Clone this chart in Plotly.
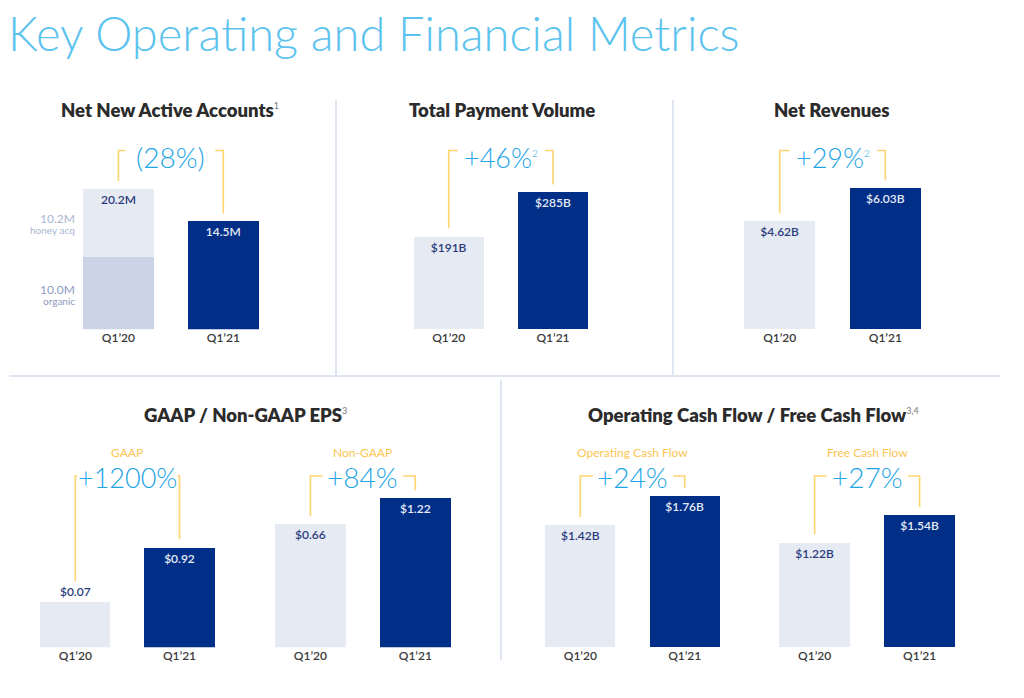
import math
import plotly.graph_objects as go

W, H = 1024, 698

# ---------------- data ----------------
quarters = ["Q1’20", "Q1’21"]
nnaa_organic_q120 = 10.0
nnaa_honey_q120 = 10.2
nnaa_q121 = 14.5
tpv = [191, 285]
net_revenues = [4.62, 6.03]
gaap_eps = [0.07, 0.92]
nongaap_eps = [0.66, 1.22]
op_cash_flow = [1.42, 1.76]
free_cash_flow = [1.22, 1.54]

SUP = "<sup><span style='font-size:10px'>{}</span></sup>"
growth_nnaa = "(28%)"
growth_tpv = "+46%" + SUP.format("2")
growth_rev = "+29%" + SUP.format("2")
growth_gaap = "+1200%"
growth_nongaap = "+84%"
growth_ocf = "+24%"
growth_fcf = "+27%"

# ---------------- styling ----------------
FONT = "Lato"
LIGHT = "#e6eaf3"
ORGANIC = "#cbd4e6"
DARK = "#012f87"
TXT_LIGHT_BAR = "#2a3d7c"
TXT_DARK_BAR = "#e6ebf6"
PCT = "#1ea5e6"
YEL = "#ffd470"
YEL_TXT = "#fcc654"
DIV = "#dfe5f1"
BARW = 0.673

def fx(px):
    return px / W

def fy(py):
    return 1 - py / H

# panel geometry (pixel layout); values drawn via axes
panels = [
    dict(key="nnaa", c=(118.4, 223.3), B=329.3, T=135, log=True, s=225, L=0.68,
         top=150.5, stub=(7, 8), gaps=(7.5, 7.5), pct=growth_nnaa, pct_size=28, pct_dy=7, sub=None),
    dict(key="tpv", c=(448.7, 553.0), B=329.3, T=135, log=False, s=0.4818, L=0,
         top=150.5, stub=(9, 8), gaps=(9, 7.5), pct=growth_tpv, pct_size=27, pct_dy=7, sub=None),
    dict(key="rev", c=(779.7, 885.3), B=329.3, T=135, log=False, s=23.38, L=0,
         top=150.5, stub=(10, 8), gaps=(8, 8), pct=growth_rev, pct_size=27, pct_dy=7, sub=None),
    dict(key="gaap", c=(75.3, 179.5), B=647.3, T=465, log=True, s=48.26, L=-2.087,
         top=476, stub=(2, 2), gaps=(21, 9), pct=growth_gaap, pct_size=27, pct_dy=1, sub="GAAP"),
    dict(key="nongaap", c=(310.4, 415.3), B=647.3, T=465, log=True, s=97.7, L=-1.439,
         top=476, stub=(12, 12), gaps=(8, 8), pct=growth_nongaap, pct_size=28, pct_dy=1, sub="Non-GAAP"),
    dict(key="ocf", c=(580.3, 684.7), B=647.3, T=465, log=False, s=85.8, L=0,
         top=476, stub=(12.5, 11.5), gaps=(8.5, 8), pct=growth_ocf, pct_size=28, pct_dy=1, sub="Operating Cash Flow"),
    dict(key="fcf", c=(814.6, 919.6), B=647.3, T=465, log=False, s=85.8, L=0,
         top=476, stub=(12, 11.5), gaps=(8, 8), pct=growth_fcf, pct_size=28, pct_dy=1, sub="Free Cash Flow"),
]

series = {
    "nnaa": [nnaa_organic_q120 + nnaa_honey_q120, nnaa_q121],
    "tpv": tpv,
    "rev": net_revenues,
    "gaap": gaap_eps,
    "nongaap": nongaap_eps,
    "ocf": op_cash_flow,
    "fcf": free_cash_flow,
}
fmts = {
    "nnaa": lambda v: f"{v:.1f}M",
    "tpv": lambda v: f"${v:.0f}B",
    "rev": lambda v: f"${v:.2f}B",
    "gaap": lambda v: f"${v:.2f}",
    "nongaap": lambda v: f"${v:.2f}",
    "ocf": lambda v: f"${v:.2f}B",
    "fcf": lambda v: f"${v:.2f}B",
}

def val_py(p, v):
    if p["log"]:
        return p["B"] - (math.log10(v) - p["L"]) * p["s"]
    return p["B"] - v * p["s"]

fig = go.Figure()
layout = dict(
    width=W, height=H, margin=dict(l=0, r=0, t=0, b=0),
    paper_bgcolor="white", plot_bgcolor="white",
    barmode="stack", showlegend=False,
    font=dict(family=FONT),
)
annotations = []
shapes = []

bar_font = dict(family=FONT, size=12, weight=600)

for i, p in enumerate(panels):
    n = i + 1
    xa = "x" if n == 1 else f"x{n}"
    ya = "y" if n == 1 else f"y{n}"
    span = p["c"][1] - p["c"][0]
    x0 = p["c"][0] - span / 2
    x1 = p["c"][1] + span / 2
    h = (p["B"] - p["T"]) / p["s"]
    yr = [p["L"], p["L"] + h] if p["log"] else [0, h]
    layout["xaxis" if n == 1 else f"xaxis{n}"] = dict(
        domain=[fx(x0), fx(x1)], range=[-0.5, 1.5], type="category",
        categoryorder="array", categoryarray=quarters, anchor=ya,
        showgrid=False, zeroline=False, showline=False, ticks="",
        tickfont=dict(family=FONT, size=12, color="#3a3a3a", weight=600),
        fixedrange=True,
    )
    layout["yaxis" if n == 1 else f"yaxis{n}"] = dict(
        domain=[fy(p["B"]), fy(p["T"])], range=yr, type="log" if p["log"] else "linear",
        visible=False, anchor=xa, fixedrange=True,
    )
    vals = series[p["key"]]
    f = fmts[p["key"]]

    if p["key"] == "nnaa":
        fig.add_trace(go.Bar(x=[quarters[0]], y=[nnaa_organic_q120], width=BARW,
                             marker=dict(color=ORGANIC, line=dict(width=0)),
                             xaxis=xa, yaxis=ya, hoverinfo="skip"))
        fig.add_trace(go.Bar(x=[quarters[0]], y=[nnaa_honey_q120], width=BARW,
                             marker=dict(color=LIGHT, line=dict(width=0)),
                             text=[f(vals[0])], textposition="inside", insidetextanchor="end",
                             textangle=0, constraintext="none",
                             textfont=dict(color=TXT_LIGHT_BAR, **bar_font),
                             xaxis=xa, yaxis=ya, hoverinfo="skip"))
        fig.add_trace(go.Bar(x=[quarters[1]], y=[nnaa_q121], width=BARW,
                             marker=dict(color=DARK, line=dict(width=0)),
                             text=[f(nnaa_q121)], textposition="inside", insidetextanchor="end",
                             textangle=0, constraintext="none",
                             textfont=dict(color=TXT_DARK_BAR, **bar_font),
                             xaxis=xa, yaxis=ya, hoverinfo="skip"))
        # side labels for stacked segments
        org_top = val_py(p, nnaa_organic_q120)
        tot_top = val_py(p, vals[0])
        lx = fx(p["c"][0] - 35.3 - 6)
        for mid, big, small, col in [
            ((tot_top + org_top) / 2, f"{nnaa_honey_q120:.1f}M", "honey acq", "#aab6d1"),
            ((org_top + p["B"]) / 2, f"{nnaa_organic_q120:.1f}M", "organic", "#8d9bc0"),
        ]:
            annotations.append(dict(x=lx, y=fy(mid - 4), xref="paper", yref="paper", text=big,
                                    showarrow=False, xanchor="right", yanchor="middle",
                                    font=dict(family=FONT, size=12, color=col)))
            annotations.append(dict(x=lx, y=fy(mid + 7.5), xref="paper", yref="paper", text=small,
                                    showarrow=False, xanchor="right", yanchor="middle",
                                    font=dict(family=FONT, size=10, color=col)))
    else:
        positions = ["inside", "inside"]
        if p["key"] == "gaap":
            positions = ["outside", "inside"]
        fig.add_trace(go.Bar(x=quarters, y=vals, width=BARW,
                             marker=dict(color=[LIGHT, DARK], line=dict(width=0)),
                             text=[f(v) for v in vals], textposition=positions,
                             insidetextanchor="end", textangle=0, constraintext="none",
                             cliponaxis=False,
                             textfont=dict(color=[TXT_LIGHT_BAR, TXT_DARK_BAR], **bar_font),
                             xaxis=xa, yaxis=ya, hoverinfo="skip"))

    # bracket
    top = p["top"]
    lx_, rx_ = p["c"]
    lb = val_py(p, vals[0]) - p["gaps"][0]
    rb = val_py(p, vals[1]) - p["gaps"][1]
    shapes.append(dict(type="path", xref="paper", yref="paper",
                       path=f"M {fx(lx_ + p['stub'][0])},{fy(top)} L {fx(lx_)},{fy(top)} L {fx(lx_)},{fy(lb)}",
                       line=dict(color=YEL, width=1.6)))
    shapes.append(dict(type="path", xref="paper", yref="paper",
                       path=f"M {fx(rx_ - p['stub'][1])},{fy(top)} L {fx(rx_)},{fy(top)} L {fx(rx_)},{fy(rb)}",
                       line=dict(color=YEL, width=1.6)))
    mid_x = (lx_ + rx_) / 2
    annotations.append(dict(x=fx(mid_x), y=fy(top + p["pct_dy"]), xref="paper", yref="paper",
                            text=p["pct"], showarrow=False, xanchor="center", yanchor="middle",
                            font=dict(family=FONT, size=p["pct_size"], color=PCT, weight=300)))
    if p["sub"]:
        annotations.append(dict(x=fx(mid_x), y=fy(452.5), xref="paper", yref="paper",
                                text=p["sub"], showarrow=False, xanchor="center", yanchor="middle",
                                font=dict(family=FONT, size=12, color=YEL_TXT)))

# panel titles
TSUP = "<sup><span style='font-size:9px;font-weight:400;color:#777'>{}</span></sup>"
titles = [
    ("Net New Active Accounts" + TSUP.format("1"), 170, 110),
    ("Total Payment Volume", 501.7, 110.5),
    ("Net Revenues", 831, 110.5),
    ("GAAP / Non-GAAP EPS" + TSUP.format("3"), 245, 415),
    ("Operating Cash Flow / Free Cash Flow" + TSUP.format("3,4"), 753, 415),
]
for t, x, y in titles:
    annotations.append(dict(x=fx(x), y=fy(y), xref="paper", yref="paper", text=t,
                            showarrow=False, xanchor="center", yanchor="middle",
                            font=dict(family=FONT, size=18.5, color="#2b2b2b", weight=800)))

# main heading
annotations.append(dict(x=fx(6), y=fy(33), xref="paper", yref="paper",
                        text="Key Operating and Financial Metrics", showarrow=False,
                        xanchor="left", yanchor="middle",
                        font=dict(family=FONT, size=47, color="#5cc3ef", weight=300)))

# dividers
for (xa0, ya0, xa1, ya1) in [(336, 100, 336, 376), (673, 100, 673, 376),
                             (9, 376, 1000, 376), (501, 380, 501, 660)]:
    shapes.append(dict(type="line", xref="paper", yref="paper",
                       x0=fx(xa0), y0=fy(ya0), x1=fx(xa1), y1=fy(ya1),
                       line=dict(color=DIV, width=2)))

layout["annotations"] = annotations
layout["shapes"] = shapes
fig.update_layout(**layout)

fig.write_html("out.html", post_script="document.body.style.margin='0';document.body.style.overflow='hidden';",
               config={"displayModeBar": False})
